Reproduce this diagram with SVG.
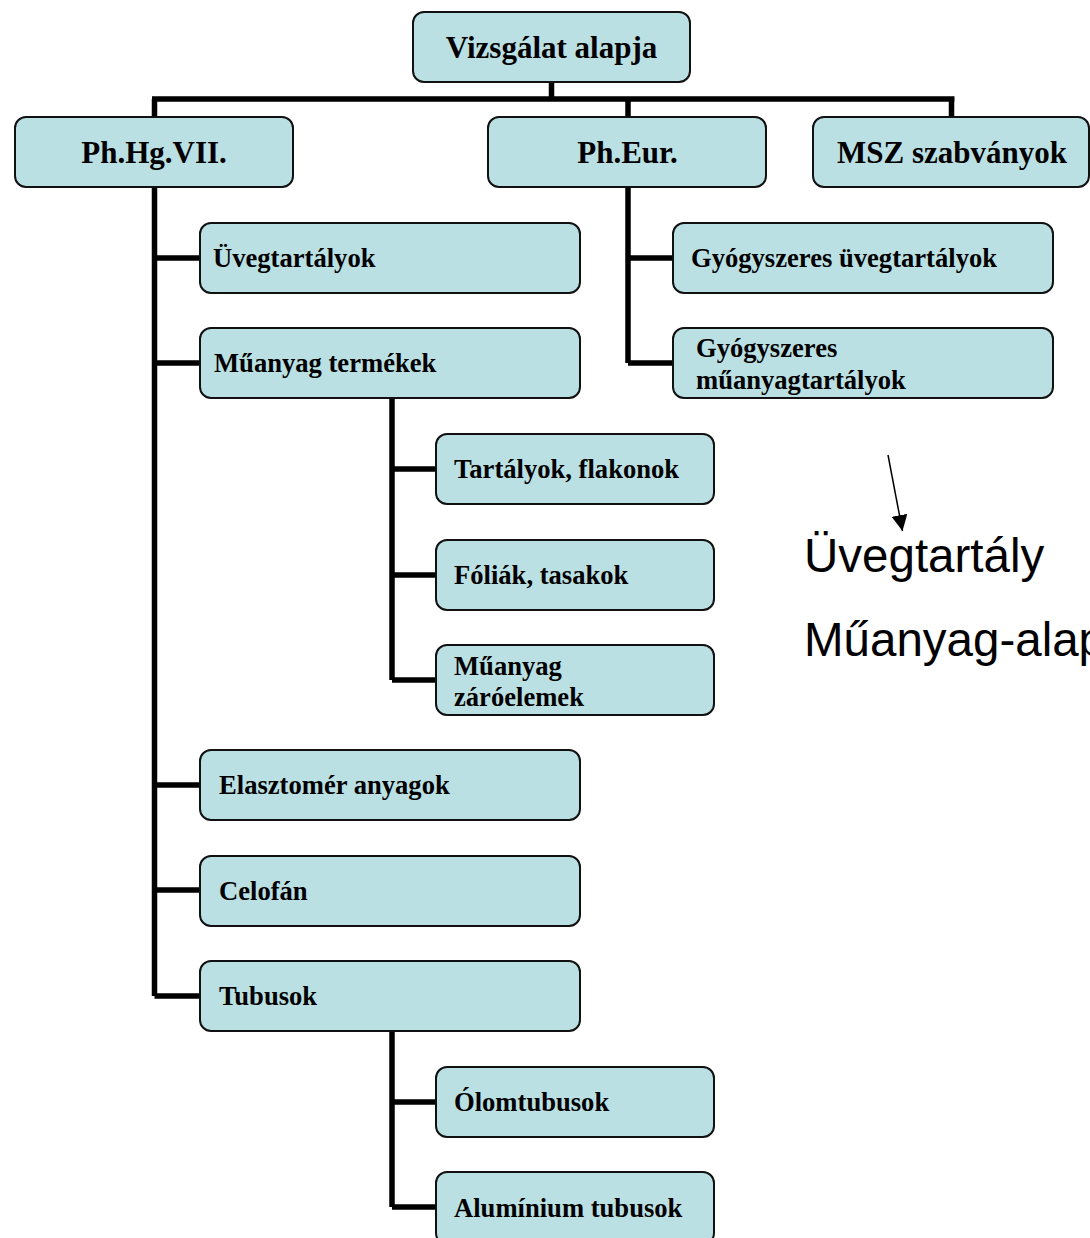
<svg xmlns="http://www.w3.org/2000/svg" width="1090" height="1238" viewBox="0 0 1090 1238">
<defs>
<style>
.box{fill:#BBE0E3;stroke:#111;stroke-width:2}
.c{fill:none;stroke:#000;stroke-width:5.5;stroke-linejoin:miter;stroke-linecap:butt}
.t1{font-family:"Liberation Serif","Times New Roman",serif;font-weight:bold;font-size:31px;fill:#000;text-anchor:middle}
.t2{font-family:"Liberation Serif","Times New Roman",serif;font-weight:bold;font-size:26.6px;fill:#000}
.s{font-family:"Liberation Sans",Arial,sans-serif;font-size:47.5px;fill:#000}
</style>
<marker id="ah" viewBox="0 0 10 10" refX="10" refY="5" markerWidth="16" markerHeight="16" markerUnits="userSpaceOnUse" orient="auto">
<path d="M0,0 L10,5 L0,10 z" fill="#000"/>
</marker>
</defs>
<rect width="1090" height="1238" fill="#fff"/>
<g id="connectors">
<path class="c" d="M551.5,81 V99 M152,99 H954.5 M154.5,99 V117 M628,99 V117 M951.5,99 V117"/>
<path class="c" d="M154.5,187 V996 M154.5,258 H200 M154.5,363 H200 M154.5,785 H200 M154.5,890 H200 M154.5,996 H200"/>
<path class="c" d="M628,187 V363 M628,258 H673 M628,363 H673"/>
<path class="c" d="M392,398 V680 M392,469 H436 M392,575 H436 M392,680 H436"/>
<path class="c" d="M392,1031 V1207 M392,1102 H436 M392,1207 H436"/>
<line x1="888" y1="455" x2="902.5" y2="531" stroke="#000" stroke-width="1.5" marker-end="url(#ah)"/>
</g>
<g id="n-vizsgalat"><rect class="box" x="413" y="12" width="277" height="70" rx="11"/><text class="t1" x="551.5" y="58">Vizsgálat alapja</text></g>
<g id="n-phhg"><rect class="box" x="15" y="117" width="278" height="70" rx="11"/><text class="t1" x="154" y="163">Ph.Hg.VII.</text></g>
<g id="n-pheur"><rect class="box" x="488" y="117" width="278" height="70" rx="11"/><text class="t1" x="627.5" y="163">Ph.Eur.</text></g>
<g id="n-msz"><rect class="box" x="813" y="117" width="276" height="70" rx="11"/><text class="t1" x="952" y="163">MSZ szabványok</text></g>
<g id="n-uveg"><rect class="box" x="200" y="223" width="380" height="70" rx="11"/><text class="t2" x="213" y="267">Üvegtartályok</text></g>
<g id="n-muanyag"><rect class="box" x="200" y="328" width="380" height="70" rx="11"/><text class="t2" x="214" y="372">Műanyag termékek</text></g>
<g id="n-gyuveg"><rect class="box" x="673" y="223" width="380" height="70" rx="11"/><text class="t2" x="691" y="267">Gyógyszeres üvegtartályok</text></g>
<g id="n-gymu"><rect class="box" x="673" y="328" width="380" height="70" rx="11"/><text class="t2" x="696" y="357">Gyógyszeres</text><text class="t2" x="696" y="389">műanyagtartályok</text></g>
<g id="n-tartalyok"><rect class="box" x="436" y="434" width="278" height="70" rx="11"/><text class="t2" x="454" y="478">Tartályok, flakonok</text></g>
<g id="n-foliak"><rect class="box" x="436" y="540" width="278" height="70" rx="11"/><text class="t2" x="454" y="584">Fóliák, tasakok</text></g>
<g id="n-zaro"><rect class="box" x="436" y="645" width="278" height="70" rx="11"/><text class="t2" x="454" y="675">Műanyag</text><text class="t2" x="454" y="706">záróelemek</text></g>
<g id="n-elaszt"><rect class="box" x="200" y="750" width="380" height="70" rx="11"/><text class="t2" x="219" y="794">Elasztomér anyagok</text></g>
<g id="n-celofan"><rect class="box" x="200" y="856" width="380" height="70" rx="11"/><text class="t2" x="219" y="900">Celofán</text></g>
<g id="n-tubusok"><rect class="box" x="200" y="961" width="380" height="70" rx="11"/><text class="t2" x="219" y="1005">Tubusok</text></g>
<g id="n-olom"><rect class="box" x="436" y="1067" width="278" height="70" rx="11"/><text class="t2" x="454" y="1111">Ólomtubusok</text></g>
<g id="n-alu"><rect class="box" x="436" y="1172" width="278" height="72" rx="11"/><text class="t2" x="454" y="1217">Alumínium tubusok</text></g>
<text class="s" x="804" y="572">Üvegtartály</text>
<text class="s" x="804" y="656">Műanyag-alap</text>
</svg>
